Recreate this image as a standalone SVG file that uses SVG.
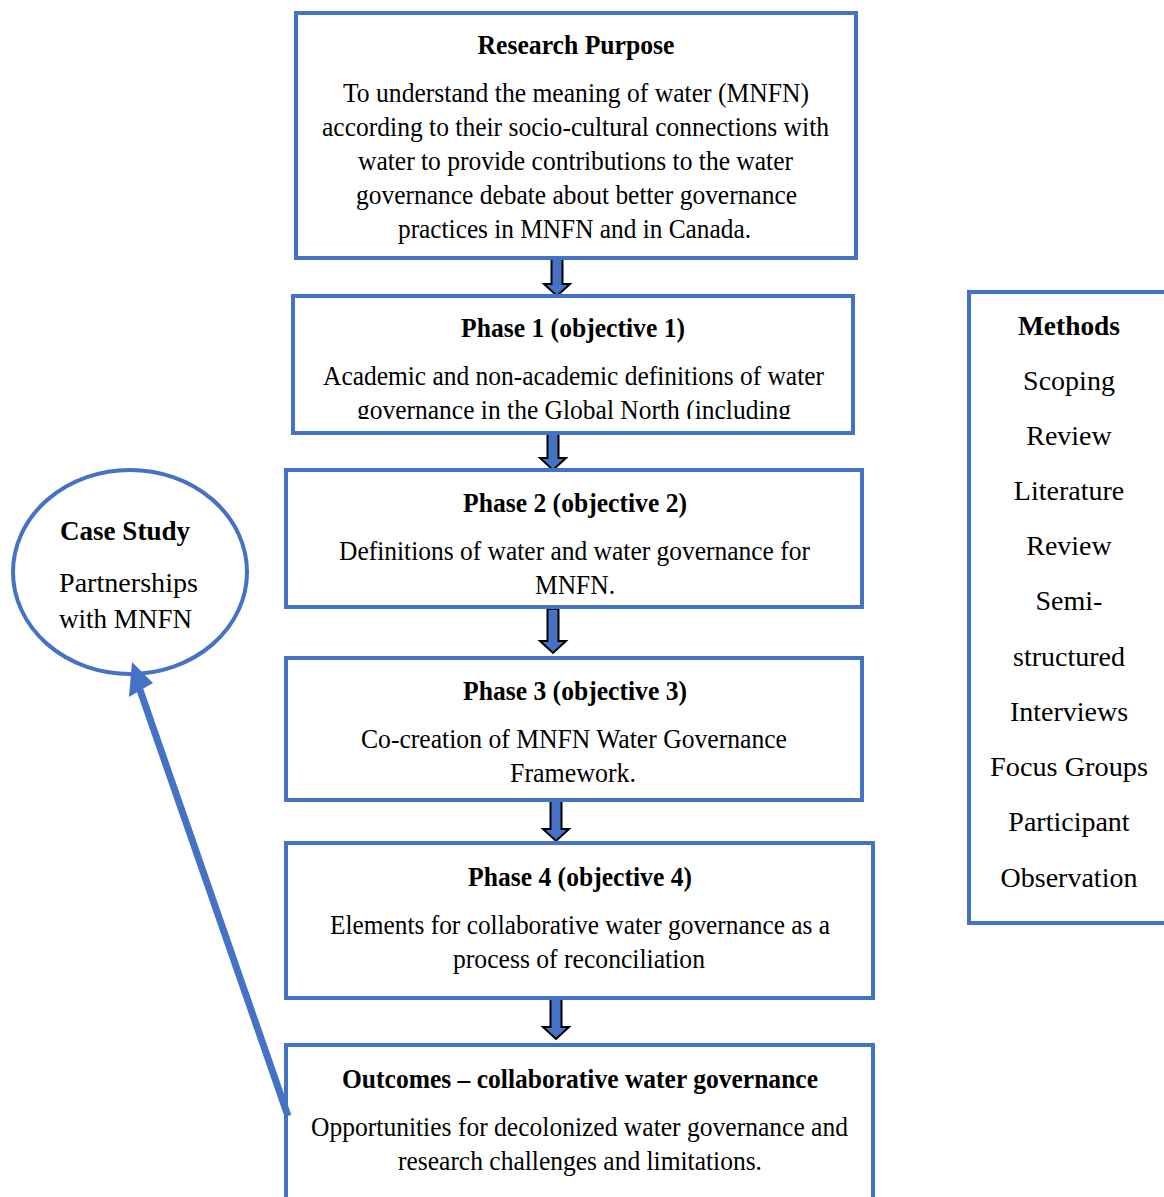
<svg xmlns="http://www.w3.org/2000/svg" width="1164" height="1197" viewBox="0 0 1164 1197">
<defs>
<style>
.box{fill:#fff;stroke:#4472C4;stroke-width:4}
.t{font-family:"Liberation Serif","Times New Roman",serif;font-size:27.5px;fill:#000;text-anchor:middle}
.b{font-weight:bold}
.m{font-family:"Liberation Serif","Times New Roman",serif;font-size:28px;fill:#000;text-anchor:middle}
.l{text-anchor:start}
.arr{fill:#4472C4;stroke:#000;stroke-width:2;stroke-linejoin:miter}
</style>
<clipPath id="clip1"><rect x="293" y="296" width="560" height="123"/></clipPath>
</defs>
<rect width="1164" height="1197" fill="#fff"/>

<g id="connectors">
<path class="arr" d="M551.5,258 H562.5 V284 H570 L557,296 L544,284 H551.5 Z"/>
<path class="arr" d="M547.5,433 H558.5 V458 H566 L553,470 L540,458 H547.5 Z"/>
<path class="arr" d="M547.5,609 H558.5 V641 H566 L553,653 L540,641 H547.5 Z"/>
<path class="arr" d="M550.5,801 H561.5 V829 H569 L556,841 L543,829 H550.5 Z"/>
<path class="arr" d="M550.5,999 H561.5 V1027 H569 L556,1039 L543,1027 H550.5 Z"/>
</g>

<g id="research-purpose">
<rect class="box" x="296" y="13" width="560" height="245"/>
<text class="t b" x="576" y="54" textLength="197" lengthAdjust="spacingAndGlyphs">Research Purpose</text>
<text class="t" x="576" y="102" textLength="466" lengthAdjust="spacingAndGlyphs">To understand the meaning of water (MNFN)</text>
<text class="t" x="575.5" y="136" textLength="507" lengthAdjust="spacingAndGlyphs">according to their socio-cultural connections with</text>
<text class="t" x="575.5" y="170" textLength="435" lengthAdjust="spacingAndGlyphs">water to provide contributions to the water</text>
<text class="t" x="576.5" y="204" textLength="441" lengthAdjust="spacingAndGlyphs">governance debate about better governance</text>
<text class="t" x="574.5" y="238" textLength="353" lengthAdjust="spacingAndGlyphs">practices in MNFN and in Canada.</text>
</g>

<g id="phase1">
<rect class="box" x="293" y="296" width="560" height="137"/>
<text class="t b" x="573" y="337" textLength="224" lengthAdjust="spacingAndGlyphs">Phase 1 (objective 1)</text>
<text class="t" x="573.5" y="385" textLength="501" lengthAdjust="spacingAndGlyphs">Academic and non-academic definitions of water</text>
<g clip-path="url(#clip1)">
<text class="t" x="574" y="419" textLength="434" lengthAdjust="spacingAndGlyphs">governance in the Global North (including</text>
</g>
</g>

<g id="phase2">
<rect class="box" x="286" y="470" width="576" height="137"/>
<text class="t b" x="575" y="512" textLength="224" lengthAdjust="spacingAndGlyphs">Phase 2 (objective 2)</text>
<text class="t" x="574.5" y="560" textLength="471" lengthAdjust="spacingAndGlyphs">Definitions of water and water governance for</text>
<text class="t" x="575" y="594" textLength="80" lengthAdjust="spacingAndGlyphs">MNFN.</text>
</g>

<g id="phase3">
<rect class="box" x="286" y="658" width="576" height="142"/>
<text class="t b" x="575" y="700" textLength="224" lengthAdjust="spacingAndGlyphs">Phase 3 (objective 3)</text>
<text class="t" x="574" y="748" textLength="426" lengthAdjust="spacingAndGlyphs">Co-creation of MNFN Water Governance</text>
<text class="t" x="573" y="782" textLength="126" lengthAdjust="spacingAndGlyphs">Framework.</text>
</g>

<g id="phase4">
<rect class="box" x="286" y="843" width="587" height="155"/>
<text class="t b" x="580" y="886" textLength="224" lengthAdjust="spacingAndGlyphs">Phase 4 (objective 4)</text>
<text class="t" x="580" y="934" textLength="500" lengthAdjust="spacingAndGlyphs">Elements for collaborative water governance as a</text>
<text class="t" x="579" y="968" textLength="252" lengthAdjust="spacingAndGlyphs">process of reconciliation</text>
</g>

<g id="outcomes">
<rect class="box" x="286" y="1045" width="587" height="170"/>
<text class="t b" x="580" y="1088" textLength="476" lengthAdjust="spacingAndGlyphs">Outcomes – collaborative water governance</text>
<text class="t" x="579.5" y="1136" textLength="537" lengthAdjust="spacingAndGlyphs">Opportunities for decolonized water governance and</text>
<text class="t" x="580" y="1170" textLength="364" lengthAdjust="spacingAndGlyphs">research challenges and limitations.</text>
</g>

<g id="case-study">
<ellipse cx="130" cy="572" rx="117" ry="102" fill="#fff" stroke="#4472C4" stroke-width="4"/>
<text class="t b l" x="60" y="540" textLength="130" lengthAdjust="spacingAndGlyphs">Case Study</text>
<text class="t l" x="59" y="592" textLength="139" lengthAdjust="spacingAndGlyphs">Partnerships</text>
<text class="t l" x="59" y="628" textLength="133" lengthAdjust="spacingAndGlyphs">with MNFN</text>
</g>

<g id="case-arrow">
<line x1="288" y1="1116" x2="140" y2="690" stroke="#4472C4" stroke-width="7"/>
<polygon points="132,662 153,683 129,697" fill="#4472C4"/>
</g>

<g id="methods">
<rect class="box" x="969" y="292" width="200" height="631"/>
<text class="m b" x="1069" y="335" textLength="102" lengthAdjust="spacingAndGlyphs">Methods</text>
<text class="m" x="1069" y="390">Scoping</text>
<text class="m" x="1069" y="445">Review</text>
<text class="m" x="1069" y="500">Literature</text>
<text class="m" x="1069" y="555">Review</text>
<text class="m" x="1069" y="610">Semi-</text>
<text class="m" x="1069" y="666">structured</text>
<text class="m" x="1069" y="721">Interviews</text>
<text class="m" x="1069" y="776" textLength="158" lengthAdjust="spacingAndGlyphs">Focus Groups</text>
<text class="m" x="1069" y="831">Participant</text>
<text class="m" x="1069" y="887">Observation</text>
</g>
</svg>
